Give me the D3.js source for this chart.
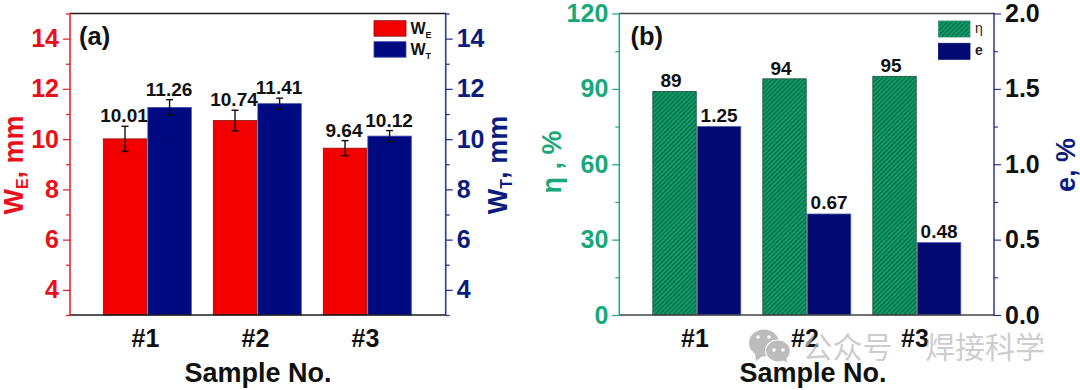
<!DOCTYPE html>
<html>
<head>
<meta charset="utf-8">
<script src="https://cdn.jsdelivr.net/npm/d3@7/dist/d3.min.js"></script>
<style>
  html, body { margin: 0; background: #fff; }
  svg { display: block; }
  text { font-family: "Liberation Sans", Arial, sans-serif; font-weight: bold; }
</style>
</head>
<body>
<svg id="chart" width="1080" height="390"></svg>
<script>
// 1. Values
const samples = ["#1", "#2", "#3"];

const wE = [10.01, 10.74, 9.64];
const wT = [11.26, 11.41, 10.12];
const wEErr = [0.5, 0.41, 0.3];
const wTErr = [0.31, 0.22, 0.22];
const wLabels = ["10.01", "10.74", "9.64"];
const wTLabels = ["11.26", "11.41", "10.12"];
const wTicks = [4, 6, 8, 10, 12, 14];
const wMinorTicks = [3, 5, 7, 9, 11, 13, 15];

const eta = [89, 94, 95];
const etaLabels = ["89", "94", "95"];
const elong = [1.25, 0.67, 0.48];
const elongLabels = ["1.25", "0.67", "0.48"];
const etaTicks = [0, 30, 60, 90, 120];
const etaMinorTicks = [15, 45, 75, 105];
const elongTicks = [0, 0.5, 1, 1.5, 2];
const elongMinorTicks = [0.25, 0.75, 1.25, 1.75];

// 2. Colours
const RED = "#f20000";
const RED_TEXT = "#e8101a";
const NAVY = "#000a80";
const NAVY_TEXT = "#0c1c7e";
const GREEN_TEXT = "#17a97b";

const svg = d3.select("#chart");

// hatch for the green bars
const hatch = svg.append("defs").append("pattern")
    .attr("id", "hatch")
    .attr("width", 3.2).attr("height", 3.2)
    .attr("patternUnits", "userSpaceOnUse")
    .attr("patternTransform", "rotate(45)");
hatch.append("rect").attr("width", 3.2).attr("height", 3.2).attr("fill", "#0f9c66");
hatch.append("rect").attr("width", 1.2).attr("height", 3.2).attr("fill", "#0b6b4a");

const plotTop = 13.5, plotBottom = 315;

// 3. Shared helpers
function yAxis(g, scale, axisFn, major, minor, fmt, lineColor, textColor, lineWidth) {
    g.call(axisFn(scale).tickValues(major).tickSize(7).tickPadding(4).tickFormat(fmt));
    g.select(".domain").remove();
    g.selectAll(".tick line").attr("stroke", lineColor).attr("stroke-width", lineWidth);
    g.selectAll(".tick text")
        .attr("fill", textColor)
        .style("font-size", "25px");
    const m = g.append("g").call(axisFn(scale).tickValues(minor).tickSize(4).tickFormat(""));
    m.select(".domain").remove();
    m.selectAll(".tick line").attr("stroke", lineColor).attr("stroke-width", lineWidth);
    g.append("line")
        .attr("y1", plotTop - 0.7).attr("y2", plotBottom + 0.7)
        .attr("stroke", lineColor).attr("stroke-width", lineWidth + 0.3);
}

function frameLines(x0, x1, color) {
    [plotTop, plotBottom].forEach(y => {
        svg.append("line")
            .attr("x1", x0).attr("x2", x1).attr("y1", y).attr("y2", y)
            .attr("stroke", color).attr("stroke-width", 1.5);
    });
}

function xLabels(x, titleX) {
    const g = svg.append("g").attr("transform", `translate(0,${plotBottom})`)
        .call(d3.axisBottom(x).tickSize(0).tickPadding(14));
    g.select(".domain").remove();
    g.selectAll(".tick text")
        .attr("dx", -2).attr("dy", 0).attr("y", 32)
        .attr("fill", "#111")
        .style("font-size", "25px");
    svg.append("text")
        .attr("x", titleX).attr("y", 381.5)
        .attr("text-anchor", "middle")
        .attr("fill", "#111")
        .style("font-size", "27px")
        .text("Sample No.");
}

// rotated axis title, sub is optional
function yTitle(x, y, color, main, sub, rest) {
    const t = svg.append("text")
        .attr("transform", `translate(${x},${y}) rotate(-90)`)
        .attr("text-anchor", "middle")
        .attr("fill", color)
        .style("font-size", "27px");
    t.append("tspan").text(main);
    if (sub) {
        t.append("tspan").attr("dy", 5).style("font-size", "16px").text(sub);
        t.append("tspan").attr("dy", -5).text(rest);
    }
}

function barLabels(data, labels, xPos, yPos) {
    svg.append("g").selectAll("text")
        .data(data)
        .join("text")
        .attr("x", (d, i) => xPos(i))
        .attr("y", (d, i) => yPos(d, i))
        .attr("text-anchor", "middle")
        .attr("fill", "#111")
        .style("font-size", "19px")
        .text((d, i) => labels[i]);
}

function bars(data, x, sub, key, y, fill, stroke) {
    svg.append("g").selectAll("rect")
        .data(data)
        .join("rect")
        .attr("x", (d, i) => x(samples[i]) + sub(key))
        .attr("y", d => y(d))
        .attr("width", sub.bandwidth())
        .attr("height", d => plotBottom - y(d))
        .attr("fill", fill)
        .attr("stroke", stroke)
        .attr("stroke-width", 0.8);
}

function errorBars(data, errs, xPos, y) {
    const g = svg.append("g").attr("stroke", "#1a0a0a").attr("stroke-width", 1.4);
    data.forEach((d, i) => {
        const cx = xPos(i), hi = y(d + errs[i]), lo = y(d - errs[i]);
        g.append("line").attr("x1", cx).attr("x2", cx).attr("y1", hi).attr("y2", lo);
        g.append("line").attr("x1", cx - 3.5).attr("x2", cx + 3.5).attr("y1", hi).attr("y2", hi);
        g.append("line").attr("x1", cx - 3.5).attr("x2", cx + 3.5).attr("y1", lo).attr("y2", lo);
    });
}

// 4. Panel (a)
const ax0 = 70, ax1 = 445.7;
const xA = d3.scalePoint().domain(samples).range([147, 367]);
const subBand = d3.scaleBand().domain(["first", "second"]).range([-43.7, 44.3]).paddingInner(0.025);
const yA = d3.scaleLinear().domain([3, 15]).range([plotBottom, plotTop]);

bars(wE, xA, subBand, "first", yA, RED, "#8a1010");
bars(wT, xA, subBand, "second", yA, NAVY, "#3a4aa8");

const redCx = i => xA(samples[i]) + subBand("first") + subBand.bandwidth() / 2;
const blueCx = i => xA(samples[i]) + subBand("second") + subBand.bandwidth() / 2;
errorBars(wE, wEErr, redCx, yA);
errorBars(wT, wTErr, blueCx, yA);
barLabels(wE, wLabels, i => redCx(i) - 1, (d, i) => yA(d + wEErr[i]) - 4);
barLabels(wT, wTLabels, i => blueCx(i) - 0.5, (d, i) => yA(d + wTErr[i]) - 4);

frameLines(ax0, ax1, "#1a1a1a");
yAxis(svg.append("g").attr("transform", `translate(${ax0},0)`), yA, d3.axisLeft,
    wTicks, wMinorTicks, d3.format("d"), "#de2a30", RED_TEXT, 1.3);
yAxis(svg.append("g").attr("transform", `translate(${ax1},0)`), yA, d3.axisRight,
    wTicks, wMinorTicks, d3.format("d"), "#2a3a98", NAVY_TEXT, 1.3);
xLabels(xA, 258);

yTitle(23, 165, RED_TEXT, "W", "E", ", mm");
yTitle(507, 165, NAVY_TEXT, "W", "T", ", mm");

svg.append("text").attr("x", 79).attr("y", 45).attr("fill", "#111")
    .style("font-size", "25.5px").text("(a)");

// legend (a)
[[RED, "#8a1010", "E", 20.7], [NAVY, "#3a4aa8", "T", 41.7]].forEach(([fill, stroke, sub, ly]) => {
    svg.append("rect").attr("x", 374).attr("y", ly).attr("width", 32).attr("height", 15.5)
        .attr("fill", fill).attr("stroke", stroke).attr("stroke-width", 0.8);
    const t = svg.append("text").attr("x", 410.5).attr("y", ly + 13).attr("fill", "#111")
        .style("font-size", "16px");
    t.append("tspan").text("W");
    t.append("tspan").attr("dy", 4).style("font-size", "9px").text(sub);
});

// 5. Panel (b)
const bx0 = 619.3, bx1 = 994;
const xB = d3.scalePoint().domain(samples).range([696.5, 916.5]);
const yEta = d3.scaleLinear().domain([0, 120]).range([plotBottom, plotTop]);
const yElong = d3.scaleLinear().domain([0, 2]).range([plotBottom, plotTop]);

bars(eta, xB, subBand, "first", yEta, "url(#hatch)", "#1f4f3c");
bars(elong, xB, subBand, "second", yElong, "#020a72", "#4a5aa8");

const greenCx = i => xB(samples[i]) + subBand("first") + subBand.bandwidth() / 2;
const navyCx = i => xB(samples[i]) + subBand("second") + subBand.bandwidth() / 2;
barLabels(eta, etaLabels, i => greenCx(i) - 3.5, d => yEta(d) - 4.3);
barLabels(elong, elongLabels, i => navyCx(i), d => yElong(d) - 4.5);

frameLines(bx0, bx1, "#444");
yAxis(svg.append("g").attr("transform", `translate(${bx0},0)`), yEta, d3.axisLeft,
    etaTicks, etaMinorTicks, d3.format("d"), "#2aa985", GREEN_TEXT, 1.3);
yAxis(svg.append("g").attr("transform", `translate(${bx1},0)`), yElong, d3.axisRight,
    elongTicks, elongMinorTicks, d3.format(".1f"), "#26267e", "#111", 1.1);
xLabels(xB, 813);

yTitle(561, 162, GREEN_TEXT, "η , %");
yTitle(1075, 165, "#0c1c7e", "e, %");

svg.append("text").attr("x", 630.5).attr("y", 45).attr("fill", "#111")
    .style("font-size", "25.5px").text("(b)");

// legend (b)
[["url(#hatch)", "#2f8f6c", "η", 21, "normal"], ["#020a72", "#020a72", "e", 43.3, "bold"]].forEach(([fill, stroke, label, ly, weight]) => {
    svg.append("rect").attr("x", 938.5).attr("y", ly).attr("width", 31.5).attr("height", 16)
        .attr("fill", fill).attr("stroke", stroke).attr("stroke-width", 0.8);
    svg.append("text").attr("x", 975).attr("y", ly + 12).attr("fill", "#222")
        .style("font-size", "14px").style("font-weight", weight).text(label);
});

// 6. Watermark
const wm = svg.append("g");
wm.append("ellipse").attr("cx", 764).attr("cy", 343).attr("rx", 15).attr("ry", 13.5).attr("fill", "#bcbcbc");
wm.append("path").attr("d", "M755 352 L756 361 L764 355 Z").attr("fill", "#bcbcbc");
wm.append("ellipse").attr("cx", 778).attr("cy", 351).attr("rx", 12.5).attr("ry", 11)
    .attr("fill", "#bcbcbc").attr("stroke", "#fff").attr("stroke-width", 1.2);
wm.append("path").attr("d", "M781 360 L787 362 L786 355 Z").attr("fill", "#bcbcbc");
[[758, 337], [769, 337], [774, 350], [783, 350]].forEach(([cx, cy]) => {
    wm.append("circle").attr("cx", cx).attr("cy", cy).attr("r", 1.8).attr("fill", "#fff");
});
wm.selectAll("text.wm")
    .data([["公众号", 802.5], ["焊接科学", 925]])
    .join("text")
    .attr("class", "wm")
    .attr("x", d => d[1]).attr("y", 358)
    .attr("fill", "#bdbdbd").attr("fill-opacity", 0.75)
    .style("font-family", '"Noto Sans CJK SC"')
    .style("font-weight", 400)
    .style("font-size", "30px")
    .text(d => d[0]);
</script>
</body>
</html>
